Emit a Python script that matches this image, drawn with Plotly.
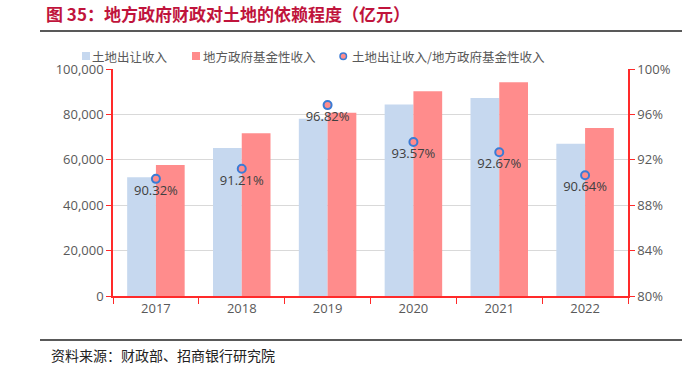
import plotly.graph_objects as go

years = ["2017", "2018", "2019", "2020", "2021", "2022"]
land_revenue = [52300, 65200, 78100, 84400, 87200, 67100]
fund_revenue = [57700, 71700, 80700, 90200, 94200, 74000]
ratio = [0.9032, 0.9121, 0.9682, 0.9357, 0.9267, 0.9064]
ratio_labels = ["90.32%", "91.21%", "96.82%", "93.57%", "92.67%", "90.64%"]
series_names = ["土地出让收入", "地方政府基金性收入", "土地出让收入/地方政府基金性收入"]

W, H = 700, 367
L, R, T, B = 113, 72, 69, 71
pw, ph = W - L - R, H - T - B

def px_x(x):
    return (x - L) / pw

def px_y(y):
    return 1 - (y - T) / ph

font_fam = "Open Sans, Noto Sans CJK SC, sans-serif"
gray = "#595959"
red = "#FF2A2A"
land_color = "#C6D8EF"
fund_color = "#FF8C8C"
marker_line = "#3A7BD5"

fig = go.Figure()
fig.add_trace(go.Bar(x=years, y=land_revenue, name=series_names[0],
                     marker=dict(color=land_color, line=dict(width=0))))
fig.add_trace(go.Bar(x=years, y=fund_revenue, name=series_names[1],
                     marker=dict(color=fund_color, line=dict(width=0))))
fig.add_trace(go.Scatter(x=years, y=ratio, name=series_names[2],
                         yaxis="y2", mode="markers+text",
                         text=ratio_labels, textposition="bottom center",
                         textfont=dict(size=13, color="#404040", family=font_fam),
                         marker=dict(size=8, color=fund_color,
                                     line=dict(color=marker_line, width=2))))

fig.update_layout(
    width=W, height=H,
    margin=dict(l=L, r=R, t=T, b=B, autoexpand=False),
    paper_bgcolor="white", plot_bgcolor="white",
    barmode="group", bargap=0.33, bargroupgap=0,
    font=dict(family=font_fam, size=13, color=gray),
    showlegend=False,
    xaxis=dict(showline=True, linecolor=red, linewidth=1.5,
               ticks="outside", tickson="boundaries", tickcolor=red, ticklen=6,
               tickfont=dict(size=13, color=gray), showgrid=False),
    yaxis=dict(range=[0, 100000], dtick=20000, tickformat=",",
               showline=True, linecolor=red, linewidth=1.5,
               ticks="outside", tickcolor=red, ticklen=5,
               showgrid=True, gridcolor="#D9D9D9", gridwidth=1,
               zeroline=False, tickfont=dict(size=13, color=gray)),
    yaxis2=dict(range=[0.8, 1.0], dtick=0.04, tickformat=".0%",
                overlaying="y", side="right",
                showline=True, linecolor=red, linewidth=1.5,
                ticks="outside", tickcolor=red, ticklen=5,
                showgrid=False, zeroline=False,
                tickfont=dict(size=13, color=gray)),
)

# manual legend (symbols + text)
leg_y = px_y(56)
fig.add_shape(type="rect", xref="paper", yref="paper",
              x0=px_x(82), x1=px_x(90), y0=px_y(60), y1=px_y(52),
              fillcolor=land_color, line=dict(width=0))
fig.add_shape(type="rect", xref="paper", yref="paper",
              x0=px_x(192), x1=px_x(200), y0=px_y(60), y1=px_y(52),
              fillcolor=fund_color, line=dict(width=0))
fig.add_shape(type="circle", xref="paper", yref="paper",
              x0=px_x(340), x1=px_x(346.5), y0=px_y(59.5), y1=px_y(53),
              fillcolor=fund_color, line=dict(color=marker_line, width=1.5))
for xpos, name in zip([92, 203, 352], series_names):
    fig.add_annotation(text=name, xref="paper", yref="paper",
                       x=px_x(xpos), y=leg_y, xanchor="left", yanchor="middle",
                       showarrow=False, xshift=-2,
                       font=dict(size=12.5, color=gray, family="Noto Sans CJK SC"))

fig.add_shape(type="line", xref="paper", yref="paper",
              x0=px_x(40), x1=px_x(682), y0=px_y(31), y1=px_y(31),
              line=dict(color="#222222", width=1.5))
fig.add_shape(type="line", xref="paper", yref="paper",
              x0=px_x(40), x1=px_x(682), y0=px_y(340), y1=px_y(340),
              line=dict(color="#222222", width=1.5))

fig.add_annotation(text="<b>图 35：地方政府财政对土地的依赖程度（亿元）</b>",
                   xref="paper", yref="paper", x=px_x(44), y=px_y(13),
                   xanchor="left", yanchor="middle", showarrow=False,
                   font=dict(size=17, color="#C0143C", family="Noto Sans CJK SC"))
fig.add_annotation(text="资料来源：财政部、招商银行研究院",
                   xref="paper", yref="paper", x=px_x(49), y=px_y(355),
                   xanchor="left", yanchor="middle", showarrow=False,
                   font=dict(size=14, color="#222222", family="Noto Sans CJK SC"))

fig.write_html("out.html", config={"displayModeBar": False},
               post_script="document.body.style.margin='0';document.body.style.padding='0';document.body.style.overflow='hidden';")
